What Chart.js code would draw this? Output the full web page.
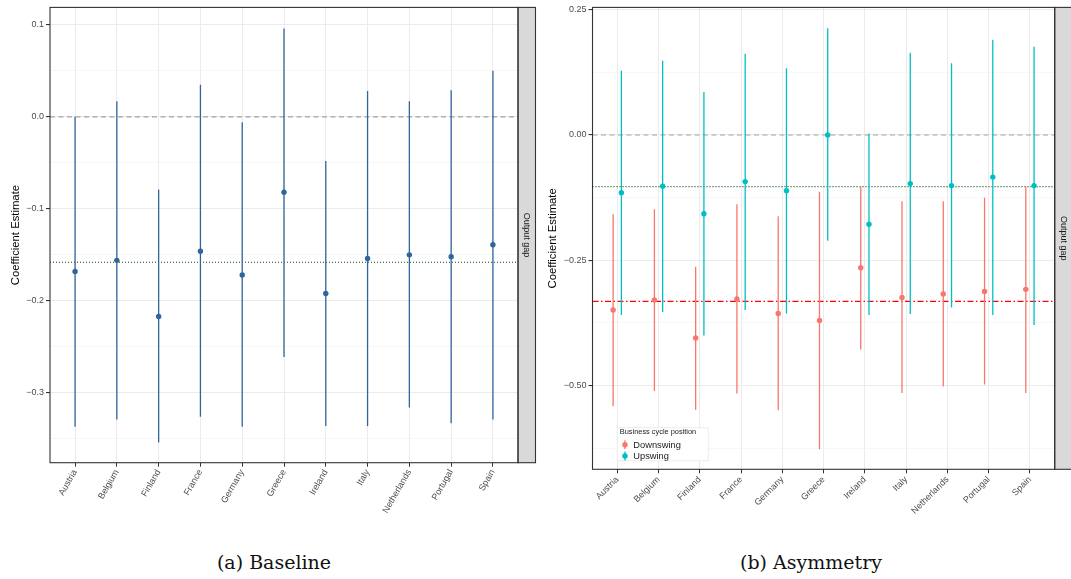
<!DOCTYPE html>
<html>
<head>
<meta charset="utf-8">
<script src="https://cdn.jsdelivr.net/npm/chart.js@4.4.1/dist/chart.umd.min.js"></script>
<style>
body { margin: 0; background: #fff; width: 1071px; height: 579px; position: relative; overflow: hidden; }
.panel { position: absolute; top: 0; }
#panelA { left: 0; width: 540px; height: 530px; }
#panelB { left: 540px; width: 531px; height: 530px; }
.cap { position: absolute; top: 551px; font-family: "DejaVu Serif", serif; font-size: 19px; line-height: 22px; white-space: nowrap; transform: translateX(-50%); color: #111; }
</style>
</head>
<body>
<div class="panel" id="panelA"><canvas id="chartA" width="540" height="530"></canvas></div>
<div class="panel" id="panelB"><canvas id="chartB" width="531" height="530"></canvas></div>
<div class="cap" style="left:274px">(a) Baseline</div>
<div class="cap" style="left:811px">(b) Asymmetry</div>
<script>
// Countries on the x axis
const countries = ['Austria', 'Belgium', 'Finland', 'France', 'Germany', 'Greece', 'Ireland', 'Italy', 'Netherlands', 'Portugal', 'Spain'];

// Baseline: estimate and confidence band
const baseEst = [-0.168, -0.156, -0.217, -0.146, -0.172, -0.082, -0.192, -0.154, -0.150, -0.152, -0.139];
const baseLo  = [-0.337, -0.329, -0.354, -0.326, -0.337, -0.261, -0.336, -0.336, -0.316, -0.333, -0.329];
const baseHi  = [ 0.000,  0.017, -0.079,  0.035, -0.006,  0.096, -0.048,  0.028,  0.017,  0.029,  0.050];
const baseMean = -0.158;

// Asymmetry: downswing / upswing
const seriesNames = ['Downswing', 'Upswing'];
const legendTitle = 'Business cycle position';
const downEst = [-0.349, -0.329, -0.405, -0.327, -0.356, -0.370, -0.265, -0.324, -0.317, -0.312, -0.308];
const downLo  = [-0.541, -0.511, -0.548, -0.516, -0.549, -0.627, -0.428, -0.515, -0.502, -0.498, -0.515];
const downHi  = [-0.158, -0.148, -0.263, -0.138, -0.162, -0.113, -0.103, -0.132, -0.132, -0.125, -0.103];
const upEst   = [-0.115, -0.102, -0.157, -0.093, -0.111,  0.000, -0.178, -0.097, -0.101, -0.084, -0.101];
const upLo    = [-0.359, -0.353, -0.400, -0.349, -0.356, -0.211, -0.359, -0.357, -0.344, -0.359, -0.379];
const upHi    = [ 0.128,  0.148,  0.086,  0.162,  0.133,  0.213,  0.003,  0.164,  0.143,  0.190,  0.176];
const downMean = -0.332;
const upMean = -0.103;

// y ticks (major with labels, minor grid only)
const baseTicks = [0.1, 0.0, -0.1, -0.2, -0.3];
const baseTickLabels = ['0.1', '0.0', '\u22120.1', '\u22120.2', '\u22120.3'];
const baseMinor = [0.05, -0.05, -0.15, -0.25, -0.35];
const asymTicks = [0.25, 0.0, -0.25, -0.50];
const asymTickLabels = ['0.25', '0.00', '\u22120.25', '\u22120.50'];
const asymMinor = [0.125, -0.125, -0.375, -0.625];

const stripText = 'Output gap';
const yTitle = 'Coefficient Estimate';

const COL_BASE = '#2f659b';
const COL_DOWN = '#F8766D';
const COL_UP = '#00BFC4';
const FONT = '"Liberation Sans", Arial, sans-serif';

// vertical segments lo..hi, broken by nulls
function rangeData(lo, hi, shift) {
  const pts = [];
  lo.forEach((v, i) => {
    pts.push({x: i + shift, y: v}, {x: i + shift, y: hi[i]}, {x: i + shift, y: null});
  });
  return pts;
}
function pointData(est, shift) {
  return est.map((v, i) => ({x: i + shift, y: v}));
}
function hline(y) {
  return [{x: -0.6, y: y}, {x: countries.length - 0.4, y: y}];
}
function segs(lo, hi, shift, color) {
  return {data: rangeData(lo, hi, shift), borderColor: color, borderWidth: 1.3, pointRadius: 0, spanGaps: false};
}
function dots(est, shift, color) {
  return {data: pointData(est, shift), showLine: false, pointRadius: 2.7, pointBorderWidth: 0, pointBackgroundColor: color, borderColor: color};
}
function refLine(y, color, dash, w) {
  return {data: hline(y), borderColor: color, borderDash: dash, borderWidth: w, pointRadius: 0};
}

// panel border, facet strip and optional legend
const panelDeco = {
  id: 'panelDeco',
  afterDraw(chart, args, opts) {
    const {ctx, chartArea: a} = chart;
    const h = a.bottom - a.top;
    ctx.save();
    ctx.fillStyle = '#d9d9d9';
    ctx.fillRect(a.right, a.top, opts.stripW, h);
    ctx.strokeStyle = '#333333';
    ctx.lineWidth = 1.1;
    ctx.strokeRect(a.right, a.top, opts.stripW, h);
    ctx.strokeRect(a.left, a.top, a.right - a.left, h);
    ctx.save();
    ctx.translate(a.right + opts.stripW / 2, a.top + h / 2);
    ctx.rotate(Math.PI / 2);
    ctx.fillStyle = '#1a1a1a';
    ctx.font = '9px ' + FONT;
    ctx.textAlign = 'center';
    ctx.textBaseline = 'middle';
    ctx.fillText(stripText, 0, 0);
    ctx.restore();

    if (opts.legend) {
      const L = opts.legend;
      ctx.fillStyle = '#ffffff';
      ctx.fillRect(L.x, L.y, L.w, L.h);
      ctx.strokeStyle = '#ececec';
      ctx.lineWidth = 1;
      ctx.strokeRect(L.x, L.y, L.w, L.h);
      ctx.fillStyle = '#1a1a1a';
      ctx.font = '7.4px ' + FONT;
      ctx.textAlign = 'left';
      ctx.textBaseline = 'middle';
      ctx.fillText(legendTitle, L.x + 2.5, L.y + 4.6);
      L.colors.forEach((c, k) => {
        const cy = L.y + 17 + k * 11.3;
        const cx = L.x + 7.7;
        ctx.strokeStyle = c;
        ctx.lineWidth = 1.3;
        ctx.beginPath();
        ctx.moveTo(cx, cy - 4.5);
        ctx.lineTo(cx, cy + 4.5);
        ctx.stroke();
        ctx.fillStyle = c;
        ctx.beginPath();
        ctx.arc(cx, cy, 2.7, 0, Math.PI * 2);
        ctx.fill();
        ctx.fillStyle = '#1a1a1a';
        ctx.font = '9.3px ' + FONT;
        ctx.fillText(seriesNames[k], L.x + 16, cy + 0.5);
      });
    }
    ctx.restore();
  }
};

function makePanel(canvas, p) {
  const isMajor = v => p.ticks.some(t => Math.abs(t - v) < 1e-9);
  return new Chart(canvas, {
    type: 'line',
    data: {datasets: p.datasets},
    options: {
      responsive: false,
      animation: false,
      events: [],
      layout: {padding: {top: p.top, right: p.right, left: 0, bottom: 0}},
      plugins: {legend: {display: false}, tooltip: {enabled: false}, panelDeco: p.deco},
      scales: {
        x: {
          type: 'linear',
          min: -0.6,
          max: countries.length - 0.4,
          afterBuildTicks: s => { s.ticks = countries.map((c, i) => ({value: i})); },
          afterFit: s => { s.height = p.xH; },
          grid: {color: '#ebebeb', lineWidth: 1, tickLength: 4, tickColor: '#333333'},
          border: {display: false},
          ticks: {
            autoSkip: false,
            minRotation: p.rot,
            maxRotation: p.rot,
            padding: 1,
            color: '#4d4d4d',
            font: {family: FONT, size: 9},
            callback: v => countries[v]
          }
        },
        y: {
          min: p.yMin,
          max: p.yMax,
          afterBuildTicks: s => { s.ticks = p.ticks.concat(p.minor).map(v => ({value: v})); },
          afterFit: s => { s.width = p.yW; },
          grid: {
            color: c => isMajor(c.tick.value) ? '#ebebeb' : '#f5f5f5',
            lineWidth: c => isMajor(c.tick.value) ? 1.1 : 0.8,
            tickLength: 4,
            tickColor: c => isMajor(c.tick.value) ? '#333333' : 'rgba(0,0,0,0)'
          },
          border: {display: false},
          title: {display: true, text: yTitle, color: '#000', font: {family: FONT, size: 11.3}, padding: {top: p.titlePad, bottom: 0}},
          ticks: {
            padding: 2,
            color: '#4d4d4d',
            font: {family: FONT, size: 9},
            callback: v => {
              const k = p.ticks.findIndex(t => Math.abs(t - v) < 1e-9);
              return k >= 0 ? p.labels[k] : '';
            }
          }
        }
      }
    },
    plugins: [panelDeco]
  });
}

// (a) Baseline
makePanel(document.getElementById('chartA'), {
  top: 5.3, right: 22, xH: 67.3, yW: 50, rot: 60, titlePad: 9.5,
  yMin: -0.376, yMax: 0.119,
  ticks: baseTicks, labels: baseTickLabels, minor: baseMinor,
  deco: {stripW: 17.5},
  datasets: [
    dots(baseEst, 0, COL_BASE),
    segs(baseLo, baseHi, 0, COL_BASE),
    refLine(0, '#a3a3a3', [5, 3.5], 1.2),
    refLine(baseMean, '#0b4f0b', [1, 2], 1.1)
  ]
});

// (b) Asymmetry
makePanel(document.getElementById('chartB'), {
  top: 5.7, right: 16.3, xH: 60.7, yW: 52.5, rot: 45, titlePad: 6,
  yMin: -0.667, yMax: 0.2546,
  ticks: asymTicks, labels: asymTickLabels, minor: asymMinor,
  deco: {stripW: 17.5, legend: {x: 77.3, y: 427.7, w: 91, h: 33, colors: [COL_DOWN, COL_UP]}},
  datasets: [
    dots(downEst, -0.1, COL_DOWN),
    dots(upEst, 0.1, COL_UP),
    segs(downLo, downHi, -0.1, COL_DOWN),
    segs(upLo, upHi, 0.1, COL_UP),
    refLine(0, '#a3a3a3', [5, 3.5], 1.2),
    refLine(upMean, '#0b4f0b', [1, 2], 1.1),
    refLine(downMean, '#ff0000', [6, 2.5, 1.5, 2.5], 1.2)
  ]
});
</script>
</body>
</html>
